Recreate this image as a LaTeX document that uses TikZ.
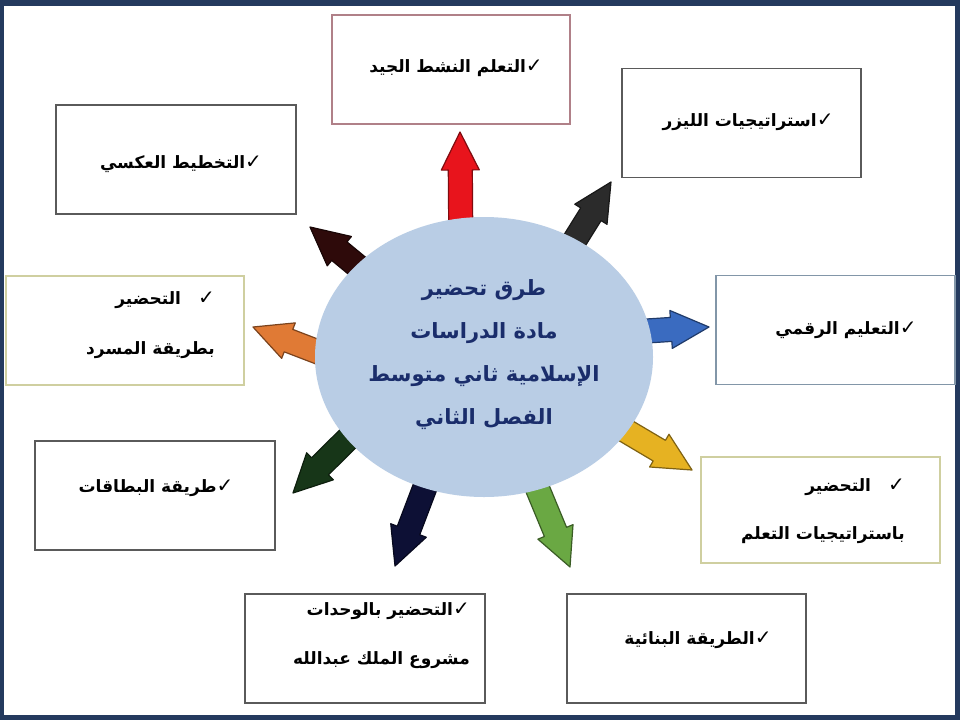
\documentclass[tikz,border=0pt]{standalone}
\usepackage{fontspec}
\usetikzlibrary{calc,shapes.geometric}
\TeXXeTstate=1
\newfontfamily\arabicfont[Script=Arabic]{DejaVu Sans}
\newcommand\ck{{\fontsize{20}{20}\selectfont ✓}}
\definecolor{frame}{HTML}{243A5E}
\definecolor{ellfill}{HTML}{B9CDE5}
\definecolor{elltext}{HTML}{1A2D6B}
\definecolor{cRed}{HTML}{E8141C}
\definecolor{cBlack}{HTML}{2B2B2B}
\definecolor{cBrown}{HTML}{2E0A0A}
\definecolor{cOrange}{HTML}{E07A35}
\definecolor{cBlue}{HTML}{3A6BC0}
\definecolor{cGold}{HTML}{E6B222}
\definecolor{cDkGreen}{HTML}{173618}
\definecolor{cNavy}{HTML}{0D1035}
\definecolor{cGreen}{HTML}{6AA843}
\definecolor{bRed}{HTML}{B08088}
\definecolor{bGrey}{HTML}{5A5A5A}
\definecolor{bYellow}{HTML}{CFCFA0}
\definecolor{bBlue}{HTML}{8296A8}
\newcommand\blockarrow[3]{%
  \path ($(#3)!38pt!(#2)$) coordinate (hb);
  \filldraw[fill=#1, draw=#1!55!black, line width=1.2pt, line join=round]
    ($(#2)!12pt!90:(#3)$) -- ($(hb)!12pt!90:(#3)$) -- ($(hb)!19pt!90:(#3)$)
    -- (#3) -- ($(hb)!19pt!-90:(#3)$) -- ($(hb)!12pt!-90:(#3)$)
    -- ($(#2)!12pt!-90:(#3)$) -- cycle;}
\begin{document}
\begin{tikzpicture}[x=1pt,y=-1pt,
  box/.style={draw=bGrey, line width=1.3pt, fill=white, minimum width=#1, minimum height=109pt, inner sep=0pt},
  box/.default=239pt,
  txt/.style={font=\arabicfont\bfseries\fontsize{17}{17}\selectfont, text=black, inner sep=0pt}]
\useasboundingbox (0,0) rectangle (960,720);
\fill[frame] (0,0) rectangle (960,720);
\fill[white] (4,6) rectangle (955,715);

% boxes
\node[box=238pt, draw=bRed] (b1) at (451,69.5) {};
\node[box] (b2) at (741.5,123) {};
\node[box=240pt] (b3) at (176,159.5) {};
\node[box=238pt, draw=bYellow] (b4) at (125,330.5) {};
\node[box, draw=bBlue] (b5) at (835.5,330) {};
\node[box=240pt] (b6) at (155,495.5) {};
\node[box, draw=bYellow, minimum height=106pt] (b7) at (820.5,510) {};
\node[box=240pt] (b8) at (365,648.5) {};
\node[box] (b9) at (686.5,648.5) {};

% arrow end points
\coordinate (a1) at (461,262);  \coordinate (t1) at (460,132);
\coordinate (a2) at (553,275);  \coordinate (t2) at (611,182);
\coordinate (a3) at (395,297);  \coordinate (t3) at (310,227);
\coordinate (a4) at (365,370);  \coordinate (t4) at (253,327);
\coordinate (a5) at (600,334);  \coordinate (t5) at (709,327);
\coordinate (a6) at (589,409);  \coordinate (t6) at (692,470);
\coordinate (a7) at (378,409);  \coordinate (t7) at (293,493);
\coordinate (a8) at (438,453);  \coordinate (t8) at (395,566);
\coordinate (a9) at (524,456);  \coordinate (t9) at (570,567);

\blockarrow{cRed}{a1}{t1}
\blockarrow{cBlack}{a2}{t2}
\blockarrow{cBrown}{a3}{t3}
\blockarrow{cOrange}{a4}{t4}
\blockarrow{cBlue}{a5}{t5}
\blockarrow{cGold}{a6}{t6}
\blockarrow{cDkGreen}{a7}{t7}
\blockarrow{cNavy}{a8}{t8}
\blockarrow{cGreen}{a9}{t9}

% centre
\node[ellipse, fill=ellfill, minimum width=338pt, minimum height=280pt, inner sep=0pt] (c) at (484,357) {};
\node[font=\arabicfont\bfseries\fontsize{21}{43}\selectfont, text=elltext, align=center, inner sep=0pt] (ct) at (484,355)
  {\beginR طرق تحضير\endR\\ \beginR مادة الدراسات\endR\\ \beginR الإسلامية ثاني متوسط\endR\\ \beginR الفصل الثاني\endR};

% texts
\node[txt] (x1) at (456,68) {\beginR \ck التعلم النشط الجيد\endR};
\node[txt] (x2) at (748,122) {\beginR \ck استراتيجيات الليزر\endR};
\node[txt] (x3) at (181,164) {\beginR \ck التخطيط العكسي\endR};
\node[txt, align=right, anchor=east] (x4) at (215,325) {\beginR \ck\quad التحضير\endR\\[32pt] \beginR بطريقة المسرد\endR};
\node[txt] (x5) at (846,330) {\beginR \ck التعليم الرقمي\endR};
\node[txt] (x6) at (156,488) {\beginR \ck طريقة البطاقات\endR};
\node[txt, align=right, anchor=east] (x7) at (905,511) {\beginR \ck\quad التحضير\endR\\[30pt] \beginR باستراتيجيات التعلم\endR};
\node[txt, align=right, anchor=east] (x8) at (470,636) {\beginR \ck التحضير بالوحدات\endR\\[31pt] \beginR مشروع الملك عبدالله\endR};
\node[txt] (x9) at (698,640) {\beginR \ck الطريقة البنائية\endR};
\end{tikzpicture}
\end{document}
